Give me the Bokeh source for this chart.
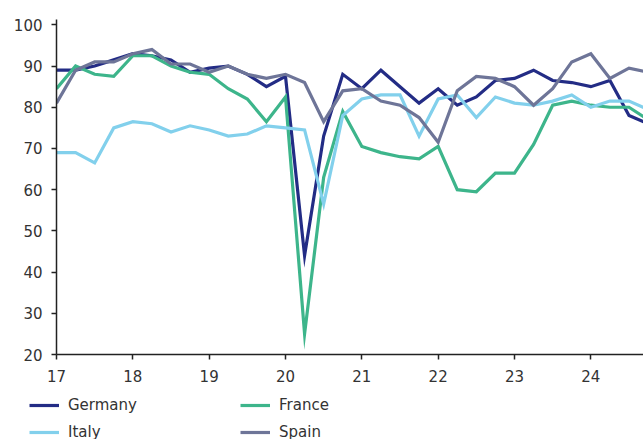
from bokeh.plotting import figure
from bokeh.models import Range1d, Legend, LegendItem, FixedTicker
from bokeh.layouts import column, row
from bokeh.embed import file_html
from bokeh.resources import INLINE

# quarterly observations starting 2017Q1 (x in two-digit years)
x = [17 + 0.25 * i for i in range(32)]

germany = [89, 89, 90, 91.5, 93, 92.5, 91.5, 88.5, 89.5, 90, 88, 85, 87.5, 44, 73, 88,
           84.5, 89, 85, 81, 84.5, 80.5, 82.5, 86.5, 87, 89, 86.5, 86, 85, 86.5, 78, 76]
france = [84.5, 90, 88, 87.5, 92.5, 92.5, 90, 88.5, 88, 84.5, 82, 76.5, 82.5, 25, 63, 79,
          70.5, 69, 68, 67.5, 70.5, 60, 59.5, 64, 64, 71, 80.5, 81.5, 80.5, 80, 80, 77]
italy = [69, 69, 66.5, 75, 76.5, 76, 74, 75.5, 74.5, 73, 73.5, 75.5, 75, 74.5, 56.5, 78,
         82, 83, 83, 73, 82, 83, 77.5, 82.5, 81, 80.5, 81.5, 83, 80, 81.5, 81.5, 79.5]
spain = [81, 89, 91, 91, 93, 94, 90.5, 90.5, 88.5, 90, 88, 87, 88, 86, 76.5, 84,
         84.5, 81.5, 80.5, 77.5, 71.5, 84, 87.5, 87, 85, 80.5, 84.5, 91, 93, 87, 89.5, 88.5]

x_ticks = [17, 18, 19, 20, 21, 22, 23, 24]
y_ticks = [20, 30, 40, 50, 60, 70, 80, 90, 100]

series = [("Germany", germany, "#232c85"),
          ("France", france, "#3db58b"),
          ("Italy", italy, "#82d0ec"),
          ("Spain", spain, "#6e7598")]

FONT = "DejaVu Sans"
TXT = "#333333"

p = figure(frame_width=587, frame_height=335, output_backend="svg", toolbar_location=None,
           min_border_left=56, min_border_right=0, min_border_top=19, min_border_bottom=35,
           x_range=Range1d(17, 24.69), y_range=Range1d(20, 101.3))
p.outline_line_color = None
p.grid.visible = False
p.background_fill_color = "white"
p.border_fill_color = "white"

for name, vals, col in series:
    p.line(x, vals, line_color=col, line_width=3.2, line_join="miter")

for ax in (p.xaxis[0], p.yaxis[0]):
    ax.axis_line_color = "#222222"
    ax.axis_line_width = 1.5
    ax.major_tick_line_color = "#222222"
    ax.major_tick_line_width = 1.5
    ax.major_tick_out = 5
    ax.major_tick_in = 0
    ax.minor_tick_line_color = None
    ax.major_label_text_font = FONT
    ax.major_label_text_font_size = "15px"
    ax.major_label_text_color = TXT

p.xaxis[0].ticker = FixedTicker(ticks=x_ticks)
p.yaxis[0].ticker = FixedTicker(ticks=y_ticks)
p.xaxis[0].major_label_standoff = 10
p.yaxis[0].major_label_standoff = 9

# legend strip below the chart (series drawn outside its view, only swatches show)
lg = figure(width=643, height=56, output_backend="svg", toolbar_location=None,
            x_axis_location=None, y_axis_location=None,
            min_border=0, min_border_left=0, min_border_right=0, min_border_top=0, min_border_bottom=0,
            x_range=Range1d(0, 1), y_range=Range1d(0, 1))
lg.grid.visible = False
lg.outline_line_color = None
lg.background_fill_color = "white"
lg.border_fill_color = "white"

swatches = {}
for name, vals, col in series:
    swatches[name] = lg.line(x, vals, line_color=col, line_width=3.2)

order = ["Germany", "Italy", "France", "Spain"]
items = [LegendItem(label=n, renderers=[swatches[n]]) for n in order]
legend = Legend(items=items, ncols=2, location=(29, 3),
                glyph_width=30, glyph_height=20, label_standoff=9, label_width=165,
                spacing=7, padding=0, margin=0,
                border_line_color=None, background_fill_alpha=0,
                label_text_font=FONT, label_text_font_size="15px", label_text_color=TXT)
lg.add_layout(legend, "center")

layout = column(p, row(lg), spacing=0)
open("out.html", "w").write(file_html(layout, INLINE))
